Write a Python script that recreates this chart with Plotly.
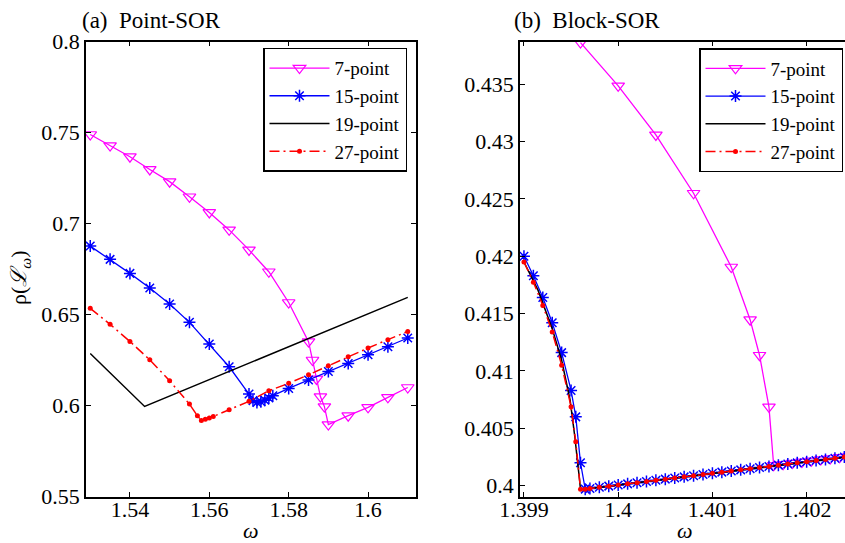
import plotly.graph_objects as go

# ---------------- Panel (a) Point-SOR ----------------
a7_x = [1.530, 1.535, 1.540, 1.545, 1.550, 1.555, 1.560, 1.565, 1.570, 1.575, 1.580,
        1.585, 1.586, 1.587, 1.588, 1.589, 1.590, 1.595, 1.600, 1.605, 1.610]
a7_y = [0.7490, 0.7429, 0.7368, 0.7298, 0.7231, 0.7148, 0.7062, 0.6966, 0.6856, 0.6736, 0.6567,
        0.6352, 0.6251, 0.6147, 0.6050, 0.5995, 0.5896, 0.5945, 0.5991, 0.6046, 0.6100]

a15_x = [1.530, 1.535, 1.540, 1.545, 1.550, 1.555, 1.560, 1.565, 1.570, 1.571, 1.572,
         1.573, 1.574, 1.575, 1.576, 1.580, 1.585, 1.590, 1.595, 1.600, 1.605, 1.610]
a15_y = [0.6877, 0.6804, 0.6727, 0.6647, 0.6559, 0.6458, 0.6339, 0.6214, 0.6064, 0.6028, 0.6018,
         0.6022, 0.6030, 0.6042, 0.6055, 0.6095, 0.6141, 0.6188, 0.6232, 0.6280, 0.6324, 0.6372]

a19_x = [1.530, 1.5437, 1.610]
a19_y = [0.6287, 0.5996, 0.6595]

a27_x = [1.530, 1.535, 1.540, 1.545, 1.550, 1.555, 1.557, 1.558, 1.559, 1.560, 1.561,
         1.565, 1.570, 1.575, 1.580, 1.585, 1.590, 1.595, 1.600, 1.605, 1.610]
a27_y = [0.6535, 0.6447, 0.6353, 0.6252, 0.6137, 0.6009, 0.5945, 0.5918, 0.5925, 0.5933, 0.5941,
         0.5978, 0.6024, 0.6082, 0.6123, 0.6170, 0.6220, 0.6269, 0.6317, 0.6363, 0.6408]

a_xticks = [1.54, 1.56, 1.58, 1.60]
a_xlabels = ["1.54", "1.56", "1.58", "1.6"]
a_yticks = [0.55, 0.60, 0.65, 0.70, 0.75, 0.80]
a_ylabels = ["0.55", "0.6", "0.65", "0.7", "0.75", "0.8"]

# ---------------- Panel (b) Block-SOR ----------------
b7_x = [1.3996, 1.4000, 1.4004, 1.4008, 1.4012, 1.4014, 1.4015, 1.4016, 1.40165, 1.40175,
        1.40185, 1.40195, 1.40205, 1.40215, 1.40225, 1.40235, 1.40245]
b7_y = [0.43862, 0.43485, 0.43057, 0.42549, 0.41906, 0.41447, 0.41137, 0.40687, 0.40177, 0.40187,
        0.40197, 0.40207, 0.40217, 0.40227, 0.40237, 0.40247, 0.40257]

b15_x = [1.3990, 1.3991, 1.3992, 1.3993, 1.3994, 1.3995, 1.39955, 1.3996, 1.39965,
         1.3997, 1.3998, 1.3999, 1.4000, 1.4001, 1.4002, 1.4003, 1.4004, 1.4005, 1.4006,
         1.4007, 1.4008, 1.4009, 1.4010, 1.4011, 1.4012, 1.4013, 1.4014, 1.4015, 1.4016,
         1.4017, 1.4018, 1.4019, 1.4020, 1.4021, 1.4022, 1.4023, 1.4024, 1.4025]
b15_y = [0.42000, 0.41830, 0.41640, 0.41420, 0.41160, 0.40830, 0.40600, 0.40200, 0.39970,
         0.39976, 0.39986, 0.39996, 0.40006, 0.40016, 0.40026, 0.40036, 0.40047, 0.40057, 0.40067,
         0.40077, 0.40087, 0.40097, 0.40108, 0.40118, 0.40128, 0.40138, 0.40148, 0.40158, 0.40168,
         0.40179, 0.40189, 0.40199, 0.40209, 0.40219, 0.40229, 0.40239, 0.40250, 0.40260]

b19_x = [1.3990, 1.39915, 1.3993, 1.3994, 1.39949, 1.39954, 1.39959, 1.3996, 1.4025]
b19_y = [0.41950, 0.41702, 0.41369, 0.41093, 0.40745, 0.40426, 0.40050, 0.39965, 0.40258]

b27_x = [1.3990, 1.3991, 1.3992, 1.3993, 1.3994, 1.3995, 1.39955, 1.3996, 1.39965,
         1.3997, 1.3998, 1.3999, 1.4000, 1.4001, 1.4002, 1.4003, 1.4004, 1.4005, 1.4006,
         1.4007, 1.4008, 1.4009, 1.4010, 1.4011, 1.4012, 1.4013, 1.4014, 1.4015, 1.4016,
         1.4017, 1.4018, 1.4019, 1.4020, 1.4021, 1.4022, 1.4023, 1.4024, 1.4025]
b27_y = [0.41950, 0.41774, 0.41571, 0.41340, 0.41050, 0.40687, 0.40383, 0.39969, 0.39970,
         0.39976, 0.39986, 0.39996, 0.40006, 0.40016, 0.40026, 0.40036, 0.40047, 0.40057, 0.40067,
         0.40077, 0.40087, 0.40097, 0.40108, 0.40118, 0.40128, 0.40138, 0.40148, 0.40158, 0.40168,
         0.40179, 0.40189, 0.40199, 0.40209, 0.40219, 0.40229, 0.40239, 0.40250, 0.40260]

b_xticks = [1.399, 1.400, 1.401, 1.402]
b_xlabels = ["1.399", "1.4", "1.401", "1.402"]
b_yticks = [0.400, 0.405, 0.410, 0.415, 0.420, 0.425, 0.430, 0.435]
b_ylabels = ["0.4", "0.405", "0.41", "0.415", "0.42", "0.425", "0.43", "0.435"]

names = ["7-point", "15-point", "19-point", "27-point"]

FONT = "Liberation Serif, Times New Roman, serif"
FS = 22
MAG = "#FF00FF"
BLUE = "#0000FF"
RED = "#FF0000"
DASHDOT = "10px,4px,2px,4px"

fig = go.Figure()


def add_panel(xs, ys, xa, ya, leg):
    (x7, y7), (x15, y15), (x19, y19), (x27, y27) = zip(xs, ys)
    fig.add_trace(go.Scatter(x=x7, y=y7, name=names[0], xaxis=xa, yaxis=ya, legend=leg,
                             mode="lines+markers",
                             line=dict(color=MAG, width=1.3),
                             marker=dict(symbol="triangle-down-open", size=11, color=MAG,
                                         line=dict(width=1.2, color=MAG))))
    fig.add_trace(go.Scatter(x=x15, y=y15, name=names[1], xaxis=xa, yaxis=ya, legend=leg,
                             mode="lines+markers",
                             line=dict(color=BLUE, width=1.3),
                             marker=dict(symbol="asterisk-open", size=10, color=BLUE,
                                         line=dict(width=1.5, color=BLUE))))
    fig.add_trace(go.Scatter(x=x19, y=y19, name=names[2], xaxis=xa, yaxis=ya, legend=leg,
                             mode="lines",
                             line=dict(color="black", width=1.5)))
    fig.add_trace(go.Scatter(x=x27, y=y27, name=names[3], xaxis=xa, yaxis=ya, legend=leg,
                             mode="lines+markers",
                             line=dict(color=RED, width=1.5, dash=DASHDOT),
                             marker=dict(symbol="circle", size=5, color=RED)))


add_panel([a7_x, a15_x, a19_x, a27_x], [a7_y, a15_y, a19_y, a27_y], "x", "y", "legend")
add_panel([b7_x, b15_x, b19_x, b27_x], [b7_y, b15_y, b19_y, b27_y], "x2", "y2", "legend2")

ydom = [1 - 496.7 / 543, 1 - 41.7 / 543]
axis_common = dict(showline=True, linecolor="black", linewidth=1.5, ticks="inside",
                   ticklen=5, tickwidth=1, tickcolor="black", showgrid=False, zeroline=False,
                   automargin=False,
                   tickfont=dict(family=FONT, size=FS, color="black"))
xaxis_extra = dict(ticklabelstandoff=-8)

legend_common = dict(font=dict(family=FONT, size=19, color="black"), bgcolor="white",
                     bordercolor="black", borderwidth=1.5, xanchor="right", yanchor="top",
                     itemwidth=60, tracegroupgap=0)

fig.update_layout(
    template="none",
    width=845, height=543,
    margin=dict(l=0, r=0, t=0, b=0, autoexpand=False),
    paper_bgcolor="white", plot_bgcolor="white",
    showlegend=True,
    font=dict(family=FONT, size=FS, color="black"),
    xaxis=dict(domain=[86 / 845, 416 / 845], range=[1.52893, 1.61208], mirror="ticks",
               tickvals=a_xticks, ticktext=a_xlabels, anchor="y", **axis_common, **xaxis_extra),
    yaxis=dict(domain=ydom, range=[0.55, 0.80], mirror="ticks",
               tickvals=a_yticks, ticktext=a_ylabels, anchor="x", **axis_common),
    xaxis2=dict(domain=[520 / 845, 1.0], range=[1.398958, 1.402407], mirror="ticks",
                tickvals=b_xticks, ticktext=b_xlabels, anchor="y2", **axis_common, **xaxis_extra),
    yaxis2=dict(domain=ydom, range=[0.39904, 0.4387], mirror=False,
                tickvals=b_yticks, ticktext=b_ylabels, anchor="x2", **axis_common),
    legend=dict(x=407 / 845, y=1 - 47.7 / 543, **legend_common),
    legend2=dict(x=843 / 845, y=1 - 48 / 543, **legend_common),
    annotations=[
        dict(text="(a)\u00a0 Point-SOR", x=80 / 845, y=1 - 20 / 543, xref="paper", yref="paper",
             xanchor="left", yanchor="middle", showarrow=False,
             font=dict(family=FONT, size=23, color="black")),
        dict(text="(b)\u00a0 Block-SOR", x=512 / 845, y=1 - 20 / 543, xref="paper", yref="paper",
             xanchor="left", yanchor="middle", showarrow=False,
             font=dict(family=FONT, size=23, color="black")),
        dict(text="<i>ω</i>", x=251 / 845, y=1 - 530 / 543, xref="paper", yref="paper",
             xanchor="center", yanchor="middle", showarrow=False,
             font=dict(family=FONT, size=FS, color="black")),
        dict(text="<i>ω</i>", x=685 / 845, y=1 - 530 / 543, xref="paper", yref="paper",
             xanchor="center", yanchor="middle", showarrow=False,
             font=dict(family=FONT, size=FS, color="black")),
        dict(text="ρ(<i>ℒ</i><sub><i>ω</i></sub>)", x=20 / 845, y=1 - 278 / 543,
             xref="paper", yref="paper", xanchor="center", yanchor="middle",
             showarrow=False, textangle=-90,
             font=dict(family=FONT, size=FS, color="black")),
    ],
)

fig.write_html("out.html", config={"displayModeBar": False},
               post_script="document.body.style.margin='0px';document.body.style.overflow='hidden';")
